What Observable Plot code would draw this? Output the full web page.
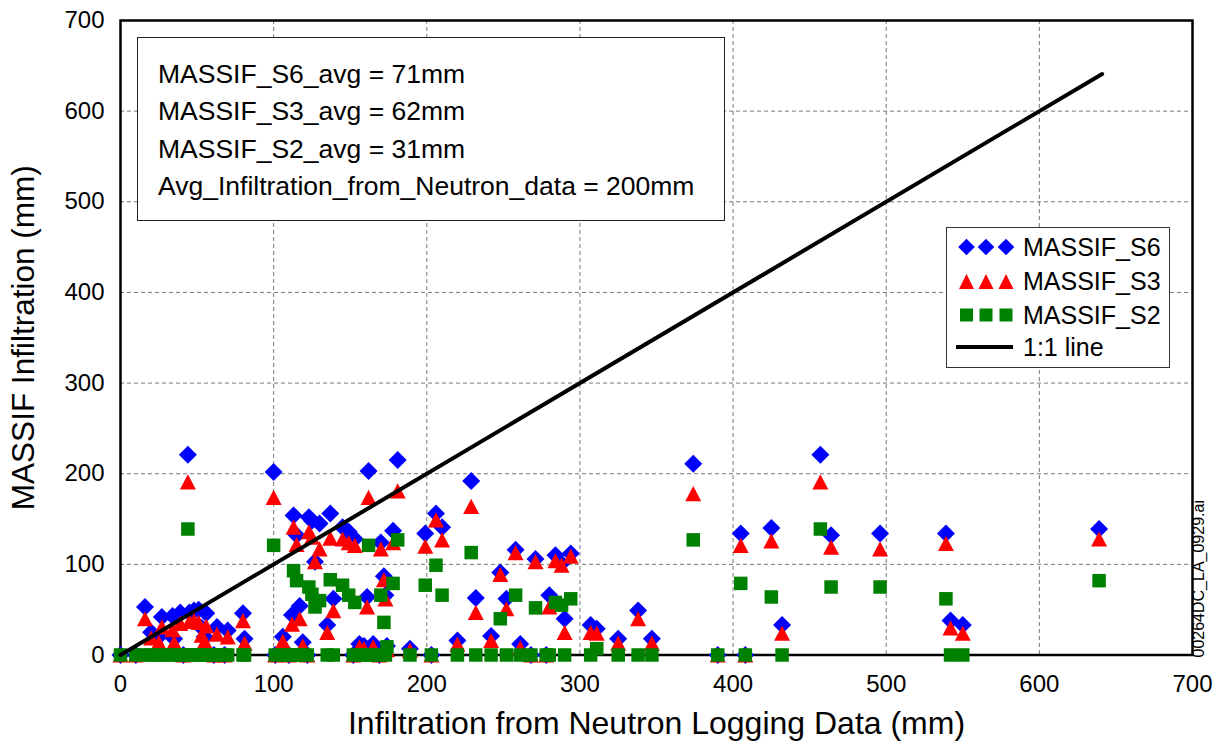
<!DOCTYPE html>
<html>
<head>
<meta charset="utf-8">
<script src="https://cdn.jsdelivr.net/npm/d3@7"></script>
<script src="https://cdn.jsdelivr.net/npm/@observablehq/plot@0.6"></script>
<style>
  html, body { margin: 0; padding: 0; background: #fff; }
  #wrap { position: relative; width: 1228px; height: 753px; font-family: "Liberation Sans", Arial, Helvetica, sans-serif; }
  #stats { position: absolute; left: 137px; top: 37px; width: 588px; height: 184px; box-sizing: border-box;
           border: 1.5px solid #222; background: #fff; padding: 18px 0 0 20px; font-size: 26.5px; line-height: 37.3px; color: #000; }
  #legend { position: absolute; left: 946px; top: 227px; }
</style>
</head>
<body>
<div id="wrap">
  <div id="chart"></div>
  <div id="stats"></div>
  <svg id="legend" width="224" height="141"></svg>
</div>
<script>
// ---- data ----
const neutronMM = [0, 10, 16, 20, 25, 27, 34, 35, 39, 41, 44, 45, 48, 51, 53, 55, 56, 61, 63, 68, 70, 80, 81,
  100, 101, 106, 110, 112, 113, 115, 117, 119, 122, 123, 125, 127, 130, 135, 137, 139, 145, 149, 152, 153, 156, 159,
  161, 162, 165, 169, 170, 172, 173, 174, 178, 181, 189, 199, 203, 206, 210, 220, 229, 232, 242, 248, 252, 258, 261,
  268, 271, 278, 280, 284, 288, 290, 294, 307, 311, 325, 338, 347, 374, 390, 405, 408, 425, 432, 457, 464, 496, 539,
  542, 550, 639];
const massifS6 = [0, 0, 53, 25, 20, 42, 43, 18, 47, 0, 221, 47, 49, 50, 30, 20, 46, 0, 31, 0, 27, 46, 18,
  202, 0, 20, 0, 44, 154, 132, 54, 14, 0, 152, 148, 103, 145, 33, 156, 62, 141, 136, 0, 128, 12, 10,
  64, 203, 12, 0, 124, 87, 66, 10, 137, 215, 7, 134, 0, 156, 141, 16, 192, 63, 21, 91, 62, 116, 12,
  0, 106, 0, 66, 110, 101, 40, 112, 33, 29, 18, 49, 18, 211, 0, 134, 0, 140, 33, 221, 132, 134, 134,
  38, 33, 139];
const massifS3 = [0, 0, 40, 19, 14, 31, 28, 14, 35, 0, 191, 37, 38, 36, 22, 15, 32, 0, 23, 0, 20, 38, 13,
  174, 0, 15, 0, 34, 141, 122, 40, 10, 0, 136, 130, 103, 117, 25, 129, 49, 128, 124, 0, 121, 9, 7,
  53, 174, 9, 0, 117, 83, 62, 6, 124, 181, 5, 120, 0, 149, 127, 12, 164, 47, 16, 89, 51, 113, 8,
  0, 103, 0, 53, 104, 99, 25, 109, 25, 24, 13, 40, 13, 178, 0, 121, 0, 126, 24, 191, 119, 117, 123,
  30, 24, 128];
const massifS2 = [0, 0, 0, 0, 0, 0, 0, 0, 0, 0, 139, 0, 0, 0, 0, 0, 0, 0, 0, 0, 0, 0, 0,
  121, 0, 0, 0, 0, 93, 82, 0, 0, 0, 75, 67, 53, 60, 0, 83, 0, 77, 66, 0, 58, 0, 0,
  0, 121, 0, 0, 66, 36, 0, 9, 79, 127, 0, 77, 0, 99, 66, 0, 113, 0, 0, 40, 0, 66, 0,
  0, 52, 0, 0, 58, 55, 0, 62, 0, 7, 0, 0, 0, 127, 0, 79, 0, 64, 0, 139, 75, 75, 62,
  0, 0, 82];
const oneToOneX = [0, 641];
const xTicks = [0, 100, 200, 300, 400, 500, 600, 700];
const yTicks = [0, 100, 200, 300, 400, 500, 600, 700];
const gridTicks = [100, 200, 300, 400, 500, 600];
const statLines = ["MASSIF_S6_avg = 71mm", "MASSIF_S3_avg = 62mm", "MASSIF_S2_avg = 31mm",
  "Avg_Infiltration_from_Neutron_data = 200mm"];
const seriesNames = ["MASSIF_S6", "MASSIF_S3", "MASSIF_S2", "1:1 line"];
const seriesColors = ["#0000ff", "#ff0000", "#008000", "#000000"];
const xTitle = "Infiltration from Neutron Logging Data (mm)";
const yTitle = "MASSIF Infiltration (mm)";
const fileTag = "00264DC_LA_0929.ai";

// ---- tables ----
const rows = neutronMM.map((x, i) => ({x, s6: massifS6[i], s3: massifS3[i], s2: massifS2[i]}));
const lineRows = oneToOneX.map(v => ({x: v, y: v}));

// ---- custom marker shapes ----
const diamondSym = {draw(ctx, size) { const h = Math.sqrt(size / 2);
  ctx.moveTo(0, -h); ctx.lineTo(h, 0); ctx.lineTo(0, h); ctx.lineTo(-h, 0); ctx.closePath(); }};
const triangleSym = {draw(ctx, size) { const a = Math.sqrt(size / 1.9), ht = 1.9 * a;
  ctx.moveTo(0, -ht / 2); ctx.lineTo(a, ht / 2); ctx.lineTo(-a, ht / 2); ctx.closePath(); }};
const rFor = area => Math.sqrt(area / Math.PI);

const font = "'Liberation Sans', Arial, Helvetica, sans-serif";

const chart = Plot.plot({
  width: 1228, height: 753,
  marginLeft: 120, marginRight: 36, marginTop: 20, marginBottom: 98.5,
  style: {fontFamily: font, background: "#fff", color: "#000", overflow: "visible"},
  x: {domain: [0, 700]},
  y: {domain: [0, 700]},
  marks: [
    Plot.gridX(gridTicks, {stroke: "#777", strokeOpacity: 1, strokeDasharray: "4,3", strokeWidth: 1}),
    Plot.gridY(gridTicks, {stroke: "#777", strokeOpacity: 1, strokeDasharray: "4,3", strokeWidth: 1}),
    Plot.axisX({ticks: xTicks, tickSize: 0, tickPadding: 20, fontSize: 24, label: null, fill: "#000"}),
    Plot.axisY({ticks: yTicks, tickSize: 0, tickPadding: 16, fontSize: 24, label: null, fill: "#000"}),
    Plot.frame({stroke: "#000", strokeWidth: 2.5}),
    Plot.dot(rows, {x: "x", y: "s6", symbol: diamondSym, r: rFor(2 * 9 * 9), fill: seriesColors[0]}),
    Plot.dot(rows, {x: "x", y: "s3", symbol: triangleSym, r: rFor(1.9 * 8 * 8), fill: seriesColors[1]}),
    Plot.dot(rows, {x: "x", y: "s2", symbol: "square", r: rFor(13.5 * 13.5), fill: seriesColors[2]}),
    Plot.line(lineRows, {x: "x", y: "y", stroke: "#000", strokeWidth: 4}),
    Plot.text([xTitle], {text: d => d, frameAnchor: "bottom", textAnchor: "middle", dy: 78.5, fontSize: 32, fill: "#000"}),
    Plot.text([yTitle], {text: d => d, frameAnchor: "left", textAnchor: "middle", rotate: -90, dx: -96.5, fontSize: 31.5, fill: "#000"}),
    Plot.text([fileTag], {text: d => d, frameAnchor: "bottom-right", rotate: -90, textAnchor: "start",
      dx: 11, dy: 2.5, fontSize: 16, fill: "#000"})
  ]
});
document.getElementById("chart").appendChild(chart);

// ---- statistics box ----
d3.select("#stats").selectAll("div").data(statLines).join("div").text(d => d);

// ---- legend ----
const lg = d3.select("#legend");
lg.append("rect").attr("x", 0.5).attr("y", 0.5).attr("width", 223).attr("height", 140)
  .attr("fill", "#fff").attr("stroke", "#333").attr("stroke-width", 1);
const rowY = [20, 54.5, 88, 120];
const symX = [20.5, 40, 60];
seriesNames.forEach((name, i) => {
  const g = lg.append("g");
  if (i < 3) {
    symX.forEach(sx => {
      let d;
      if (i === 0) d = `M${sx},${rowY[i] - 8.3}L${sx + 8.3},${rowY[i]}L${sx},${rowY[i] + 8.3}L${sx - 8.3},${rowY[i]}Z`;
      else if (i === 1) d = `M${sx},${rowY[i] - 7.5}L${sx + 7.5},${rowY[i] + 7.5}L${sx - 7.5},${rowY[i] + 7.5}Z`;
      else d = `M${sx - 6.5},${rowY[i] - 6.5}h13v13h-13Z`;
      g.append("path").attr("d", d).attr("fill", seriesColors[i]);
    });
  } else {
    g.append("line").attr("x1", 10).attr("x2", 67).attr("y1", rowY[i]).attr("y2", rowY[i])
      .attr("stroke", "#000").attr("stroke-width", 4);
  }
  g.append("text").attr("x", 77).attr("y", rowY[i]).attr("dy", "0.35em")
    .attr("font-family", font).attr("font-size", 25).attr("fill", "#000").text(name);
});
</script>
</body>
</html>
